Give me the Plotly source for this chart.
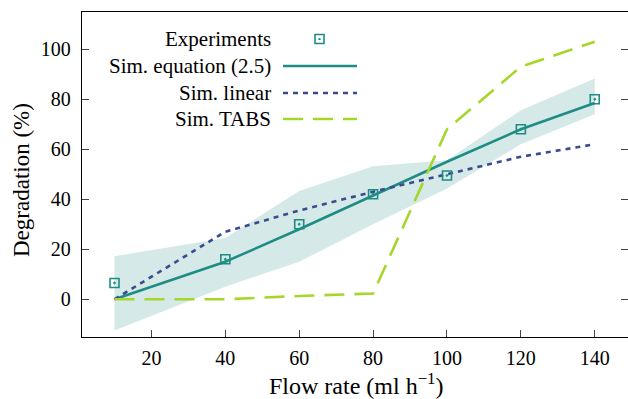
import plotly.graph_objects as go

# Flow rates (ml/h) at which degradation was evaluated
flow = [10, 40, 60, 80, 100, 120, 140]

# Measured degradation (%)
experiments = [6.5, 16, 30, 42, 49.5, 68, 80]

# Simulated degradation (%) for each model
sim_equation = [0, 15, 28, 41.5, 55, 68, 78.5]
sim_linear = [0, 27, 35.5, 43, 50, 57, 62]
sim_tabs = [0, 0, 1.3, 2.3, 68, 93, 103]

# Uncertainty band around the equation (2.5) simulation
band_lower = [-12.5, 5, 15, 30, 44.3, 62, 74]
band_upper = [17.2, 24.5, 43.3, 53.2, 55.6, 75.6, 88.3]

x_ticks = [20, 40, 60, 80, 100, 120, 140]
y_ticks = [0, 20, 40, 60, 80, 100]

TEAL = "#1f8c84"
BAND = "#d4e9e8"
NAVY = "#3a4b8e"
LIME = "#a6d62c"
FONT = "Liberation Serif"

fig = go.Figure()

fig.add_trace(go.Scatter(x=flow, y=band_lower, mode="lines",
                         line=dict(width=0, color=BAND), hoverinfo="skip"))
fig.add_trace(go.Scatter(x=flow, y=band_upper, mode="lines", fill="tonexty",
                         fillcolor=BAND, line=dict(width=0, color=BAND),
                         hoverinfo="skip"))

fig.add_trace(go.Scatter(x=flow, y=sim_equation, mode="lines",
                         line=dict(color=TEAL, width=2.5)))
fig.add_trace(go.Scatter(x=flow, y=sim_linear, mode="lines",
                         line=dict(color=NAVY, width=2.6, dash="5px,5px")))
fig.add_trace(go.Scatter(x=flow, y=sim_tabs, mode="lines",
                         line=dict(color=LIME, width=2.6, dash="20px,10px")))
fig.add_trace(go.Scatter(x=flow, y=experiments, mode="markers",
                         marker=dict(symbol="square-open-dot", size=9,
                                     color=TEAL, line=dict(color=TEAL, width=1.6))))

# Plot area geometry in pixels
W, H = 628, 399
ML, MR, MT, MB = 82, 0, 12, 62
PW, PH = W - ML - MR, H - MT - MB


def px(x):
    return (x - ML) / PW


def py(y):
    return (H - MB - y) / PH


# Legend drawn as text on the left of its samples
legend_rows = [
    ("Experiments", 39, None),
    ("Sim. equation (2.5)", 66, dict(color=TEAL, width=2.5)),
    ("Sim. linear", 93, dict(color=NAVY, width=2.6, dash="5px,5px")),
    ("Sim. TABS", 119, dict(color=LIME, width=2.6, dash="20px,10px")),
]
shapes = []
annotations = []
for label, yy, style in legend_rows:
    annotations.append(dict(text=label, x=px(273), y=py(yy), xref="paper", yref="paper",
                            xanchor="right", yanchor="middle", showarrow=False,
                            font=dict(family=FONT, size=21, color="black")))
    if style is None:
        shapes.append(dict(type="rect", xref="paper", yref="paper", xsizemode="pixel",
                           ysizemode="pixel", xanchor=px(319.5), yanchor=py(yy),
                           x0=-4.5, x1=4.5, y0=-4.5, y1=4.5,
                           line=dict(color=TEAL, width=1.6)))
        shapes.append(dict(type="rect", xref="paper", yref="paper", xsizemode="pixel",
                           ysizemode="pixel", xanchor=px(319.5), yanchor=py(yy),
                           x0=-1, x1=1, y0=-1, y1=1, fillcolor=TEAL,
                           line=dict(width=0)))
    else:
        shapes.append(dict(type="line", xref="paper", yref="paper",
                           x0=px(283), x1=px(357), y0=py(yy), y1=py(yy), line=style))

annotations.append(dict(text="Flow rate (ml h<sup>−1</sup>)", x=px(356), y=py(384),
                        xref="paper", yref="paper", xanchor="center", yanchor="middle",
                        showarrow=False, font=dict(family=FONT, size=24, color="black")))
annotations.append(dict(text="Degradation (%)", x=px(21), y=py(180), textangle=-90,
                        xref="paper", yref="paper", xanchor="center", yanchor="middle",
                        showarrow=False, font=dict(family=FONT, size=23, color="black")))

fig.update_layout(
    width=W, height=H,
    margin=dict(l=ML, r=MR, t=MT, b=MB),
    paper_bgcolor="white", plot_bgcolor="white",
    showlegend=False,
    shapes=shapes, annotations=annotations,
    font=dict(family=FONT, size=20, color="black"),
    xaxis=dict(range=[1.2, 149.0], tickvals=x_ticks, ticks="inside", ticklen=7,
               tickcolor="#444", tickwidth=1.2, showline=True, linecolor="black",
               linewidth=1.3, mirror=True, showgrid=False, zeroline=False,
               ticklabelstandoff=3, tickfont=dict(family=FONT, size=20)),
    yaxis=dict(range=[-15.1, 114.9], tickvals=y_ticks, ticks="inside", ticklen=7,
               tickcolor="#444", tickwidth=1.2, showline=True, linecolor="black",
               linewidth=1.3, mirror="ticks", showgrid=False, zeroline=False,
               ticklabelstandoff=6, tickfont=dict(family=FONT, size=20)),
)

fig.write_html("out.html")
